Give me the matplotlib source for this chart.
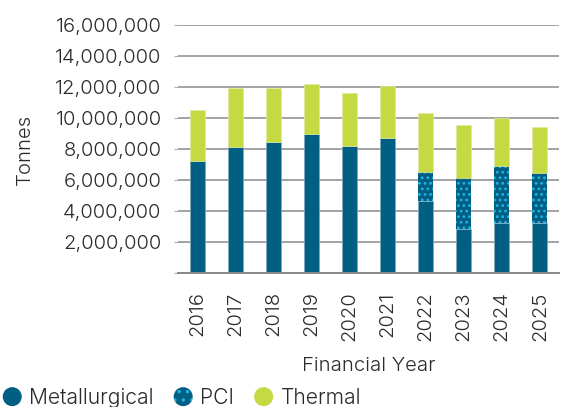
import matplotlib
matplotlib.use("Agg")
import matplotlib.pyplot as plt
import matplotlib.patches as mpatches
from matplotlib.legend_handler import HandlerPatch
from matplotlib.ticker import FuncFormatter

plt.rcParams['font.family'] = ['Inter', 'DejaVu Sans']

years = ['2016', '2017', '2018', '2019', '2020', '2021', '2022', '2023', '2024', '2025']
metallurgical = [7250000, 8130000, 8430000, 8970000, 8210000, 8710000, 4680000, 2840000, 3230000, 3230000]
pci = [0, 0, 0, 0, 0, 0, 1870000, 3330000, 3710000, 3260000]
thermal = [3290000, 3840000, 3540000, 3200000, 3380000, 3390000, 3790000, 3400000, 3060000, 2950000]
yticks = [0, 2000000, 4000000, 6000000, 8000000, 10000000, 12000000, 14000000, 16000000]

C_MET = '#005f83'
C_PCI_DOT = '#1fb4e8'
C_TH = '#c4d942'
C_TXT = '#2b2b2b'
FS = 14.6
FS_LEG = 15.2

fig = plt.figure(figsize=(5.66, 4.07), dpi=100)
ax = fig.add_axes([0.315, 0.3285, 0.6725, 0.61])

x = list(range(len(years)))
w = 0.39
plt.rcParams['hatch.linewidth'] = 1.2
ax.bar(x, metallurgical, width=w, color=C_MET, edgecolor='#7fa9bd', linewidth=0.5, zorder=3)
bottom2 = [m for m in metallurgical]
ax.bar(x, pci, width=w, bottom=bottom2, color=C_MET, edgecolor=C_PCI_DOT, linewidth=0,
       hatch='...', zorder=3)
bottom3 = [m + p for m, p in zip(metallurgical, pci)]
ax.bar(x, thermal, width=w, bottom=bottom3, color=C_TH, edgecolor='#dfe9a0', linewidth=0.5, zorder=3)

ax.set_xlim(-0.5, len(years) - 0.5)
ax.set_ylim(0, 16000000)
ax.set_yticks(yticks)
ax.yaxis.set_major_formatter(FuncFormatter(lambda v, p: '' if v == 0 else f'{int(v):,}'))
ax.grid(axis='y', color='#a3a3a3', linewidth=1.4, zorder=0)
for s in ['top', 'right', 'left']:
    ax.spines[s].set_visible(False)
ax.spines['bottom'].set_color('#8a8a8a')
ax.spines['bottom'].set_linewidth(1.4)
ax.spines['bottom'].set_zorder(4)
ax.tick_params(axis='y', length=3, color='#b0b0b0', labelsize=FS, labelcolor=C_TXT, pad=9)
ax.tick_params(axis='x', length=0, labelsize=FS, labelcolor=C_TXT, pad=13)
ax.set_xticks(x)
ax.set_xticklabels(years, rotation=90)
for lab in ax.get_xticklabels() + ax.get_yticklabels():
    lab.set_fontweight(300)
ax.set_xlabel('Financial Year', fontsize=FS, color=C_TXT, labelpad=11, fontweight=300)
ax.set_ylabel('Tonnes', fontsize=FS, color=C_TXT, labelpad=15.5, fontweight=300)


class HandlerCircle(HandlerPatch):
    def create_artists(self, legend, orig_handle, xdescent, ydescent, width, height, fontsize, trans):
        r = 9.5 * 72 / 100
        cx = width / 2 - xdescent
        cy = height / 2 - ydescent
        p = mpatches.Circle((cx, cy), r)
        self.update_prop(p, orig_handle, legend)
        p.set_transform(trans)
        return [p]


h_met = mpatches.Patch(facecolor=C_MET, edgecolor=C_MET, linewidth=0)
h_pci = mpatches.Patch(facecolor=C_MET, edgecolor=C_PCI_DOT, linewidth=0, hatch='..')
h_th = mpatches.Patch(facecolor=C_TH, edgecolor=C_TH, linewidth=0)
leg = fig.legend([h_met, h_pci, h_th], ['Metallurgical', 'PCI', 'Thermal'],
                 handler_map={mpatches.Patch: HandlerCircle()},
                 loc='center left', bbox_to_anchor=(0.0067, 0.022), ncol=3, frameon=False,
                 fontsize=FS_LEG, handlelength=0.8, handletextpad=0.4, columnspacing=1.0,
                 borderpad=0, borderaxespad=0, labelcolor=C_TXT)
for t in leg.get_texts():
    t.set_fontweight(300)

fig.savefig('out.png', dpi=100)
